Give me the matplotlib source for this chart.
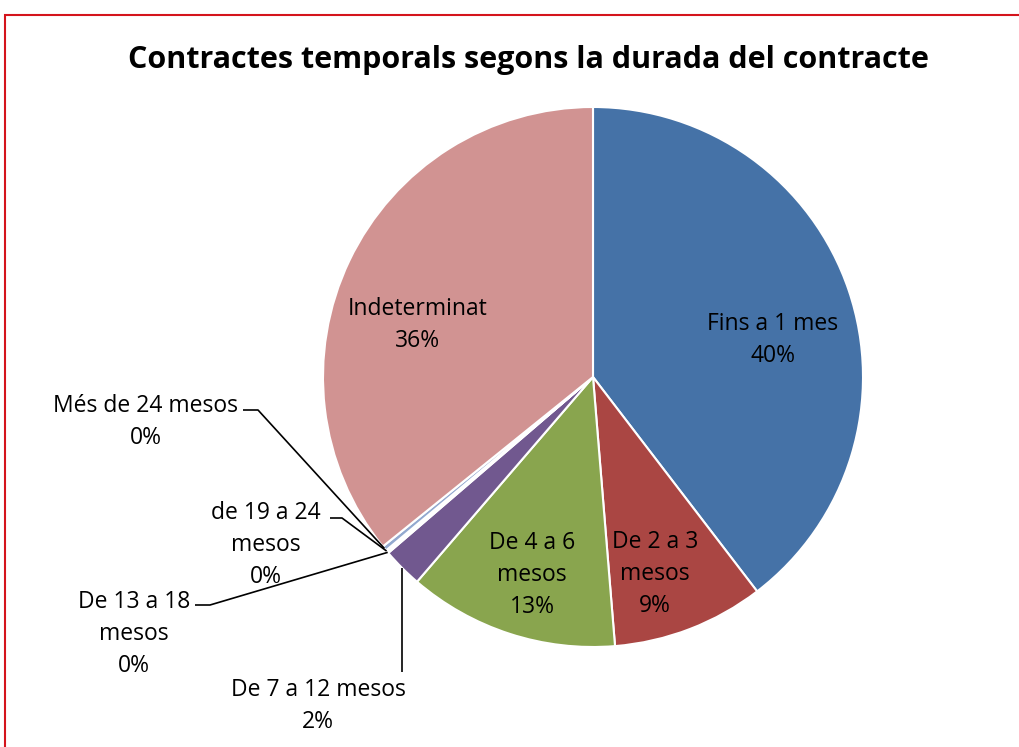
import matplotlib
matplotlib.use("Agg")
import matplotlib.pyplot as plt
from matplotlib.patches import Rectangle
import numpy as np

# data
categories = ["Fins a 1 mes", "De 2 a 3\nmesos", "De 4 a 6\nmesos", "De 7 a 12 mesos",
              "De 13 a 18\nmesos", "de 19 a 24\nmesos", "Més de 24 mesos", "Indeterminat"]
values = [39.6, 9.1, 12.6, 2.4, 0.1, 0.1, 0.3, 35.8]
colors = ["#4572A7", "#AA4643", "#89A54E", "#71588F",
          "#4198AF", "#DB843D", "#93A9CF", "#D19392"]
title = "Contractes temporals segons la durada del contracte"

W, H = 1020, 747
cx, cy, r = 593, H - 377, 270

plt.rcParams["font.family"] = ["Open Sans", "DejaVu Sans"]

fig = plt.figure(figsize=(W / 100, H / 100), dpi=100)
ax = fig.add_axes([0, 0, 1, 1])

# red frame running off the right/bottom edges
fig.patches.append(Rectangle((5 / W, -0.1), 1.2, (H - 15) / H + 0.1, transform=fig.transFigure,
                             fill=False, edgecolor="#D4141C", linewidth=1.5))

wedges, _ = ax.pie(values, colors=colors, startangle=90, counterclock=False,
                   center=(cx, cy), radius=r, frame=True,
                   wedgeprops=dict(edgecolor="white", linewidth=1.5))
ax.set_xlim(0, W)
ax.set_ylim(0, H)
ax.set_aspect("equal")
ax.axis("off")

pcts = [f"{round(v)}%" for v in values]

# label centres (top-origin pixels)
label_pos = {
    0: (773, 340), 1: (655, 574), 2: (532, 575), 3: (318, 706),
    4: (134, 634), 5: (266, 545), 6: (146, 422), 7: (418, 325),
}
for i, (x, y) in label_pos.items():
    ax.text(x, H - y, f"{categories[i]}\n{pcts[i]}", ha="center", va="center",
            fontsize=16.5, linespacing=1.45, color="black", fontweight="medium")

# leader lines for the small slices
cum = np.cumsum([0] + values[:-1])
def rim(i, frac=0.5):
    ang = np.deg2rad((cum[i] + values[i] * frac) / 100 * 360)
    return cx + r * np.sin(ang), cy + r * np.cos(ang)

leaders = {
    6: [(243, 410), (258, 410)],
    5: [(330, 518), (342, 518)],
    4: [(195, 605), (210, 605)],
    3: [(402, 672)],
}
for i, pts in leaders.items():
    xs = [p[0] for p in pts]
    ys = [H - p[1] for p in pts]
    ex, ey = rim(i)
    if i == 3:
        ex = xs[0]
        ey = cy - np.sqrt(r ** 2 - (ex - cx) ** 2)
    ax.plot(xs + [ex], ys + [ey], color="black", lw=1.2, solid_capstyle="butt")

fig.text(528 / W, 1 - 60 / H, title, ha="center", va="center",
         fontsize=22, fontweight="bold")

fig.savefig("out.png", dpi=100)
